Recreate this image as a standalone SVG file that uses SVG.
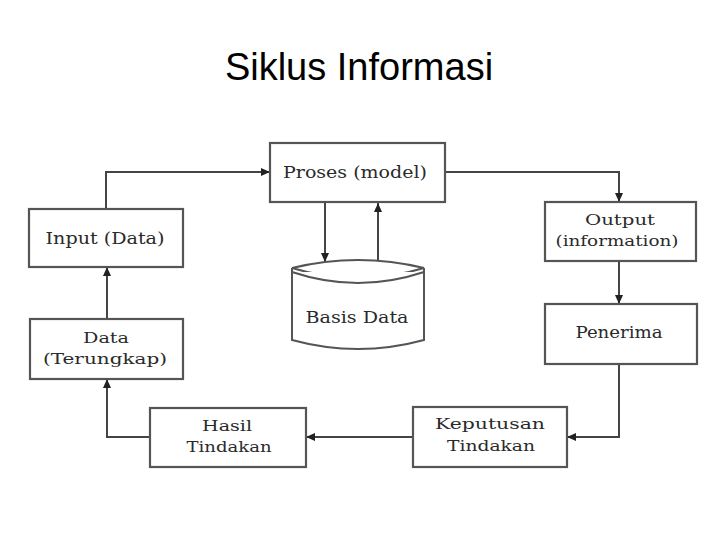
<svg xmlns="http://www.w3.org/2000/svg" width="720" height="540" viewBox="0 0 720 540">
<defs>
<style>
.box{fill:#fff;stroke:#555;stroke-width:2.2}
.cyl{fill:#fff;stroke:#555;stroke-width:2}
.lbl{font-family:"DejaVu Serif","Liberation Serif",serif;font-size:16px;fill:#2a2a2a;text-anchor:middle}
.sm{font-size:15px}
.conn{fill:none;stroke:#444;stroke-width:2}
.title{font-family:"Liberation Sans","Open Sans",sans-serif;font-size:38px;fill:#000;text-anchor:middle}
</style>
<marker id="ah" markerUnits="userSpaceOnUse" markerWidth="9" markerHeight="8" refX="9" refY="4" orient="auto">
<path d="M0,0 L9,4 L0,8 z" fill="#222"/>
</marker>
</defs>
<rect width="720" height="540" fill="#fff"/>
<text class="title" x="359" y="80">Siklus Informasi</text>

<g id="connectors">
<path class="conn" d="M106,209 V172 H270" marker-end="url(#ah)"/>
<path class="conn" d="M325,202 V262" marker-end="url(#ah)"/>
<path class="conn" d="M378,260 V203" marker-end="url(#ah)"/>
<path class="conn" d="M445,172 H619 V202" marker-end="url(#ah)"/>
<path class="conn" d="M619,261 V304" marker-end="url(#ah)"/>
<path class="conn" d="M619,364 V437 H567" marker-end="url(#ah)"/>
<path class="conn" d="M413,437 H306" marker-end="url(#ah)"/>
<path class="conn" d="M150,437 H107 V379" marker-end="url(#ah)"/>
<path class="conn" d="M107,319 V267" marker-end="url(#ah)"/>
</g>

<g id="proses">
<rect class="box" x="270" y="143" width="175" height="59"/>
<text class="lbl" x="355" y="178" textLength="144" lengthAdjust="spacingAndGlyphs">Proses (model)</text>
</g>

<g id="input">
<rect class="box" x="29" y="209" width="154" height="58"/>
<text class="lbl" x="105" y="244" textLength="119" lengthAdjust="spacingAndGlyphs">Input (Data)</text>
</g>

<g id="basis-data">
<path class="cyl" d="M292,268 V340 Q358,358 424,340 V268"/>
<path class="cyl" d="M292,268 Q358,252 424,268"/>
<path class="cyl" d="M292,268 Q358,288 424,268" stroke-width="1.6"/>
<path class="cyl" d="M292,272 Q358,294 424,272"/>
<text class="lbl" x="357" y="323" textLength="103" lengthAdjust="spacingAndGlyphs">Basis Data</text>
</g>

<g id="output">
<rect class="box" x="545" y="202" width="151" height="59"/>
<text class="lbl sm" x="620" y="225" textLength="70" lengthAdjust="spacingAndGlyphs">Output</text>
<text class="lbl sm" x="617" y="246" textLength="123" lengthAdjust="spacingAndGlyphs">(information)</text>
</g>

<g id="penerima">
<rect class="box" x="545" y="304" width="152" height="60"/>
<text class="lbl" x="619" y="338" textLength="87" lengthAdjust="spacingAndGlyphs">Penerima</text>
</g>

<g id="data-terungkap">
<rect class="box" x="30" y="319" width="153" height="60"/>
<text class="lbl sm" x="106" y="343" textLength="46" lengthAdjust="spacingAndGlyphs">Data</text>
<text class="lbl sm" x="105" y="364" textLength="124" lengthAdjust="spacingAndGlyphs">(Terungkap)</text>
</g>

<g id="hasil-tindakan">
<rect class="box" x="150" y="408" width="156" height="59"/>
<text class="lbl sm" x="227" y="431" textLength="50" lengthAdjust="spacingAndGlyphs">Hasil</text>
<text class="lbl sm" x="229" y="452" textLength="85" lengthAdjust="spacingAndGlyphs">Tindakan</text>
</g>

<g id="keputusan-tindakan">
<rect class="box" x="413" y="407" width="154" height="60"/>
<text class="lbl sm" x="490" y="429" textLength="110" lengthAdjust="spacingAndGlyphs">Keputusan</text>
<text class="lbl sm" x="491" y="451" textLength="88" lengthAdjust="spacingAndGlyphs">Tindakan</text>
</g>
</svg>
